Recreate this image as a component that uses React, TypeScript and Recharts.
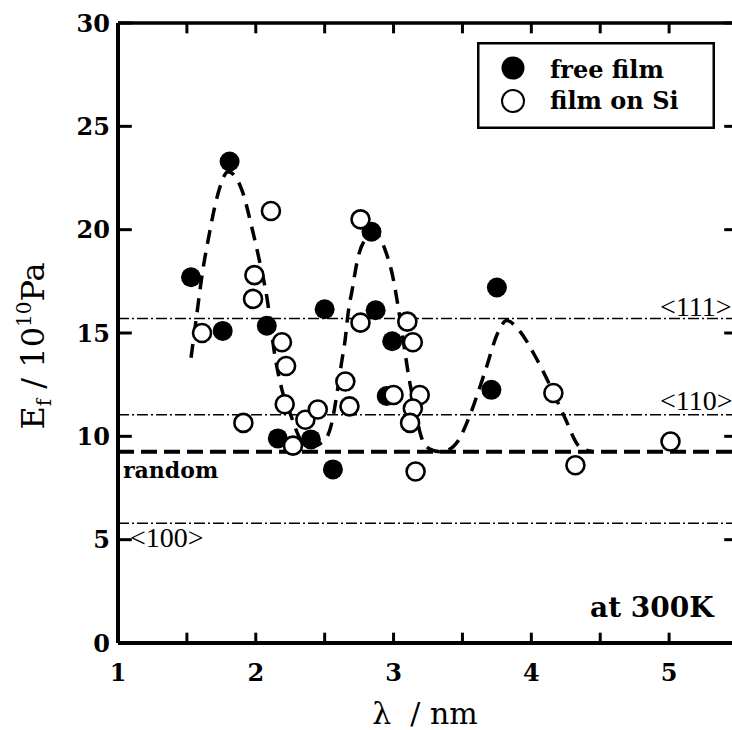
import { ComposedChart, XAxis, YAxis, Scatter, Line, ReferenceLine, Legend } from 'recharts'

// wavelength of the modulation (nm) and Young's modulus (10^10 Pa)
const freeFilmX = [1.53, 1.76, 1.81, 2.08, 2.16, 2.4, 2.5, 2.56, 2.84, 2.87, 2.99, 2.95, 3.71, 3.75]
const freeFilmY = [17.7, 15.1, 23.3, 15.35, 9.9, 9.85, 16.15, 8.4, 19.9, 16.1, 14.6, 11.95, 12.25, 17.2]

const onSiX = [1.61, 1.91, 1.98, 1.99, 2.11, 2.19, 2.22, 2.21, 2.27, 2.36, 2.45, 2.65, 2.68, 2.76, 2.76, 3.0, 3.1, 3.14, 3.19, 3.14, 3.12, 3.16, 4.16, 4.32, 5.01]
const onSiY = [15.0, 10.65, 16.65, 17.8, 20.9, 14.55, 13.4, 11.55, 9.55, 10.8, 11.3, 12.65, 11.45, 20.5, 15.5, 12.0, 15.55, 14.55, 12.0, 11.35, 10.65, 8.3, 12.1, 8.6, 9.75]

// guide-to-the-eye curve through the three maxima
const fitX = [1.53, 1.57, 1.61, 1.66, 1.72, 1.8, 1.9, 1.97, 2.02, 2.08, 2.14, 2.19, 2.25, 2.33, 2.4, 2.49, 2.55, 2.59, 2.62, 2.65, 2.67, 2.7, 2.74, 2.8, 2.85, 2.94, 3.0, 3.03, 3.08, 3.11, 3.16, 3.2, 3.26, 3.34, 3.4, 3.47, 3.55, 3.66, 3.76, 3.82, 3.92, 4.03, 4.14, 4.24, 4.35, 4.45]
const fitY = [13.8, 15.8, 17.8, 19.7, 21.6, 22.8, 21.9, 20.15, 18.7, 16.75, 13.85, 12.25, 11.1, 9.8, 9.5, 9.75, 10.6, 12.1, 13.45, 14.75, 15.95, 17.1, 18.6, 19.6, 19.9, 19.0, 17.55, 16.4, 14.2, 12.9, 11.2, 10.0, 9.4, 9.25, 9.35, 9.8, 10.95, 13.05, 15.05, 15.6, 15.05, 13.85, 12.4, 10.95, 9.5, 9.25]

const xDomain = [1, 5.5]
const yDomain = [0, 30]
const xTicks = [1, 1.5, 2, 2.5, 3, 3.5, 4, 4.5, 5, 5.5]
const yTicks = [0, 5, 10, 15, 20, 25, 30]

const level111 = 15.7
const level110 = 11.05
const levelRandom = 9.25
const level100 = 5.8

const seriesNames = ['free film', 'film on Si']

const freeFilm = freeFilmX.map((x, i) => ({ x, y: freeFilmY[i] }))
const onSi = onSiX.map((x, i) => ({ x, y: onSiY[i] }))
const fitCurve = fitX.map((x, i) => ({ x, y: fitY[i] }))

const SERIF = "'DejaVu Serif', serif"
const TIMES = "'Liberation Serif', serif"

const CHART_W = 760
const PLOT_TOP = 23
const PLOT_RIGHT = 738 // the right edge of the frame falls just outside the page
const BOTTOM_GAP = 20
const LEFT_GAP = 8

// inward tick lengths, in axis units
const X_TICK_LEN = 0.5
const Y_TICK_LEN = 0.1

const frameLine = { stroke: '#000', strokeWidth: 4 }

function BottomTick({ x, y, payload }: any) {
  const v = payload.value
  if (!Number.isInteger(v)) return null
  return (
    <text x={x} y={y} dy="0.73em" textAnchor="middle" fill="#000" fontSize={24} fontFamily={SERIF} fontWeight={700}>
      {v}
    </text>
  )
}

function LeftTick({ x, y, payload }: any) {
  return (
    <text x={x} y={y} dy="0.36em" textAnchor="end" fill="#000" fontSize={24} fontFamily={SERIF} fontWeight={700}>
      {payload.value}
    </text>
  )
}

function LineText({ viewBox, text, dx, dy, bold, size }: any) {
  return (
    <text
      x={viewBox.x + dx}
      y={viewBox.y + dy}
      fill="#000"
      fontSize={size}
      fontFamily={bold ? SERIF : TIMES}
      fontWeight={bold ? 700 : 400}
    >
      {text}
    </text>
  )
}

function XTitle({ viewBox }: any) {
  return (
    <text
      x={viewBox.x + viewBox.width / 2 - 3}
      y={viewBox.y + 81}
      textAnchor="middle"
      fill="#000"
      fontSize={30}
      fontFamily={SERIF}
    >
      {'λ\u00a0\u00a0/\u00a0nm'}
    </text>
  )
}

function YTitle() {
  return (
    <text
      transform="translate(44, 346) rotate(-90)"
      textAnchor="middle"
      fill="#000"
      fontSize={32}
      fontFamily={SERIF}
    >
      <tspan>E</tspan>
      <tspan fontSize={20} dy={7}>f</tspan>
      <tspan dy={-7}>{'\u00a0/\u00a010'}</tspan>
      <tspan fontSize={20} dy={-13}>10</tspan>
      <tspan dy={13}>Pa</tspan>
    </text>
  )
}

function LegendBox({ payload }: any) {
  const items = (payload || [])
    .filter((p: any) => seriesNames.includes(p.value))
    .sort((a: any, b: any) => seriesNames.indexOf(a.value) - seriesNames.indexOf(b.value))
  return (
    <svg width={238} height={87} style={{ display: 'block' }}>
      <rect x={1.25} y={1.25} width={235.5} height={84.5} fill="#fff" stroke="#000" strokeWidth={2.5} />
      {items.map((item: any, i: number) => {
        const filled = item.value === seriesNames[0]
        return (
          <g key={item.value}>
            <circle
              cx={36}
              cy={26 + i * 33}
              r={filled ? 11.5 : 11}
              fill={filled ? '#000' : '#fff'}
              stroke="#000"
              strokeWidth={filled ? 0 : 2}
            />
            <text x={73} y={36 + i * 31} fontSize={24} fontFamily={SERIF} fontWeight={700} fill="#000">
              {item.value}
            </text>
          </g>
        )
      })}
    </svg>
  )
}

const filledDot = (p: any) => <circle cx={p.cx} cy={p.cy} r={10} fill="#000" />
const openDot = (p: any) => <circle cx={p.cx} cy={p.cy} r={9} fill="#fff" stroke="#000" strokeWidth={2.6} />

// inward tick marks on all four sides of the frame
const frameTicks = [
  ...xTicks.map((t) => [{ x: t, y: yDomain[0] }, { x: t, y: yDomain[0] + X_TICK_LEN }]),
  ...xTicks.map((t) => [{ x: t, y: yDomain[1] }, { x: t, y: yDomain[1] - X_TICK_LEN }]),
  ...yTicks.map((t) => [{ x: xDomain[0], y: t }, { x: xDomain[0] + Y_TICK_LEN, y: t }]),
  ...yTicks.map((t) => [{ x: xDomain[1], y: t }, { x: xDomain[1] - Y_TICK_LEN, y: t }]),
]

export default function App() {
  return (
    <div style={{ position: 'absolute', left: 0, top: 0, width: 732, height: 730, overflow: 'hidden', background: '#fff' }}>
      <ComposedChart
        width={CHART_W}
        height={730}
        margin={{ top: PLOT_TOP, right: CHART_W - PLOT_RIGHT, bottom: 47, left: 0 }}
        style={{ fontFamily: SERIF }}
      >
        <XAxis
          dataKey="x"
          type="number"
          domain={xDomain}
          ticks={xTicks}
          interval={0}
          allowDataOverflow
          tick={<BottomTick />}
          tickLine={false}
          tickSize={0}
          tickMargin={BOTTOM_GAP}
          height={40}
          axisLine={frameLine}
          label={<XTitle />}
        />
        {/* mirrored top/right axes close the frame */}
        <XAxis
          xAxisId="top"
          orientation="top"
          mirror
          dataKey="x"
          type="number"
          domain={xDomain}
          ticks={xTicks}
          interval={0}
          allowDataOverflow
          tick={false}
          tickLine={false}
          height={10}
          axisLine={{ stroke: '#000', strokeWidth: 3.5 }}
        />
        <YAxis
          dataKey="y"
          type="number"
          domain={yDomain}
          ticks={yTicks}
          interval={0}
          allowDataOverflow
          tick={<LeftTick />}
          tickLine={false}
          tickSize={0}
          tickMargin={LEFT_GAP}
          width={118}
          axisLine={frameLine}
          label={<YTitle />}
        />
        <YAxis
          yAxisId="right"
          orientation="right"
          mirror
          dataKey="y"
          type="number"
          domain={yDomain}
          ticks={yTicks}
          interval={0}
          allowDataOverflow
          tick={false}
          tickLine={false}
          width={10}
          axisLine={frameLine}
        />

        {frameTicks.map((seg, i) => (
          <ReferenceLine key={`tick-${i}`} segment={seg} stroke="#000" strokeWidth={3} ifOverflow="visible" />
        ))}

        <ReferenceLine
          y={level111}
          stroke="#000"
          strokeWidth={1.5}
          strokeDasharray="11 3 2 3"
          label={<LineText text="<111>" dx={542} dy={-3} size={28} />}
        />
        <ReferenceLine
          y={level110}
          stroke="#000"
          strokeWidth={1.5}
          strokeDasharray="11 3 2 3"
          label={<LineText text="<110>" dx={542} dy={-5} size={28} />}
        />
        <ReferenceLine
          y={levelRandom}
          stroke="#000"
          strokeWidth={4}
          strokeDasharray="16 7"
          label={<LineText text="random" dx={5} dy={26} size={22} bold />}
        />
        <ReferenceLine
          y={level100}
          stroke="#000"
          strokeWidth={1.5}
          strokeDasharray="11 3 2 3"
          label={<LineText text="<100>" dx={12} dy={24} size={28} />}
        />

        {/* the fitted curve is bound to the top/right axes, which share the same scales */}
        <Line
          xAxisId="top"
          yAxisId="right"
          data={fitCurve}
          dataKey="y"
          type="monotone"
          stroke="#000"
          strokeWidth={3.5}
          strokeDasharray="14 9"
          dot={false}
          activeDot={false}
          legendType="none"
          isAnimationActive={false}
        />
        <Scatter name={seriesNames[0]} data={freeFilm} fill="#000" shape={filledDot} isAnimationActive={false} />
        <Scatter name={seriesNames[1]} data={onSi} fill="#fff" shape={openDot} isAnimationActive={false} />

        <Legend
          layout="horizontal"
          verticalAlign="middle"
          align="center"
          content={(props: any) => <LegendBox payload={props.payload} />}
          wrapperStyle={{ position: 'absolute', left: 477, top: 42, width: 238, height: 87 }}
        />
      </ComposedChart>
      <svg width={732} height={730} style={{ position: 'absolute', left: 0, top: 0, pointerEvents: 'none' }}>
        <text x={590} y={617} fontSize={28} fontFamily={SERIF} fontWeight={700} fill="#000">
          at 300K
        </text>
      </svg>
    </div>
  )
}
